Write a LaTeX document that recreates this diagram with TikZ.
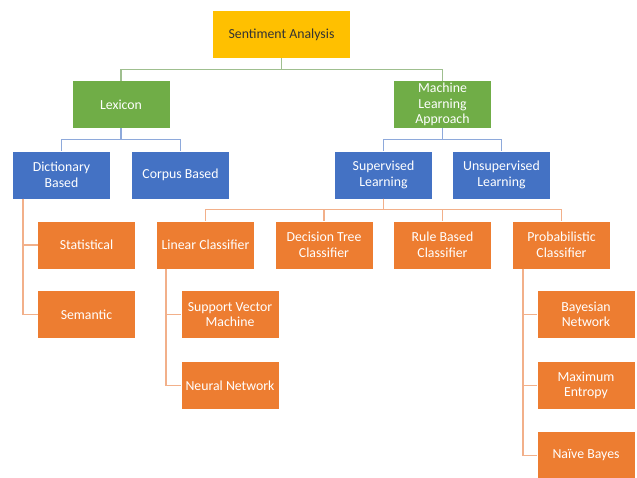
\documentclass[tikz,border=0pt]{standalone}
\usepackage{fontspec}
\setmainfont{Carlito}
\definecolor{cyel}{HTML}{FFC000}
\definecolor{cgreen}{HTML}{70AD47}
\definecolor{cblue}{HTML}{4472C4}
\definecolor{corange}{HTML}{ED7D31}
\definecolor{lgreen}{HTML}{9FBF8F}
\definecolor{lblue}{HTML}{8EA9DB}
\definecolor{lorange}{HTML}{F2B08A}
\begin{document}
\begin{tikzpicture}[x=1pt,y=1pt,
  box/.style={rectangle, inner sep=0pt, minimum width=97pt, minimum height=47pt,
    align=center, text=white, font=\fontsize{13.8}{15.5}\selectfont},
  ybox/.style={box, fill=cyel, text=black!80, minimum width=137pt},
  gbox/.style={box, fill=cgreen},
  bbox/.style={box, fill=cblue},
  obox/.style={box, fill=corange},
  gline/.style={draw=lgreen, line width=1.4pt},
  bline/.style={draw=lblue, line width=1.4pt},
  oline/.style={draw=lorange, line width=1.4pt}]
\useasboundingbox (0,0) rectangle (637,-477);
\node[ybox] (sa) at (281.5,-34.5) {Sentiment Analysis};
\node[gbox] (lex) at (121,-104.5) {Lexicon};
\node[gbox] (ml) at (442.5,-104.5) {Machine\\Learning\\Approach};
\node[bbox] (dict) at (61.5,-175) {Dictionary\\Based};
\node[bbox] (corp) at (180.5,-175) {Corpus Based};
\node[bbox] (sup) at (383.5,-175) {Supervised\\Learning};
\node[bbox] (unsup) at (501.5,-175) {Unsupervised\\Learning};
\node[obox] (stat) at (86.5,-245) {Statistical};
\node[obox] (sem) at (86.5,-314.5) {Semantic};
\node[obox] (lin) at (205.5,-245) {Linear Classifier};
\node[obox] (dt) at (324,-245) {Decision Tree\\Classifier};
\node[obox] (rb) at (442.5,-245) {Rule Based\\Classifier};
\node[obox] (prob) at (561.5,-245) {Probabilistic\\Classifier};
\node[obox] (svm) at (230,-314.5) {Support Vector\\Machine};
\node[obox] (nn) at (230,-385.5) {Neural Network};
\node[obox] (bn) at (586,-314.5) {Bayesian\\Network};
\node[obox] (me) at (586,-385.5) {Maximum\\Entropy};
\node[obox] (nb) at (586,-455.5) {Naïve Bayes};
% connectors
\draw[gline] (sa.south) -- ++(0,-11) -| (lex.north);
\draw[gline] (sa.south) -- ++(0,-11) -| (ml.north);
\draw[bline] (lex.south) -- ++(0,-11.5) -| (dict.north);
\draw[bline] (lex.south) -- ++(0,-11.5) -| (corp.north);
\draw[bline] (ml.south) -- ++(0,-11.5) -| (sup.north);
\draw[bline] (ml.south) -- ++(0,-11.5) -| (unsup.north);
\foreach \n in {lin,dt,rb,prob}
  \draw[oline] (sup.south) -- ++(0,-11) -| (\n.north);
\foreach \n in {stat,sem}
  \draw[oline] ([xshift=10pt]dict.south west) |- (\n.west);
\foreach \n in {svm,nn}
  \draw[oline] ([xshift=9pt]lin.south west) |- (\n.west);
\foreach \n in {bn,me,nb}
  \draw[oline] ([xshift=10pt]prob.south west) |- (\n.west);
\end{tikzpicture}
\end{document}
